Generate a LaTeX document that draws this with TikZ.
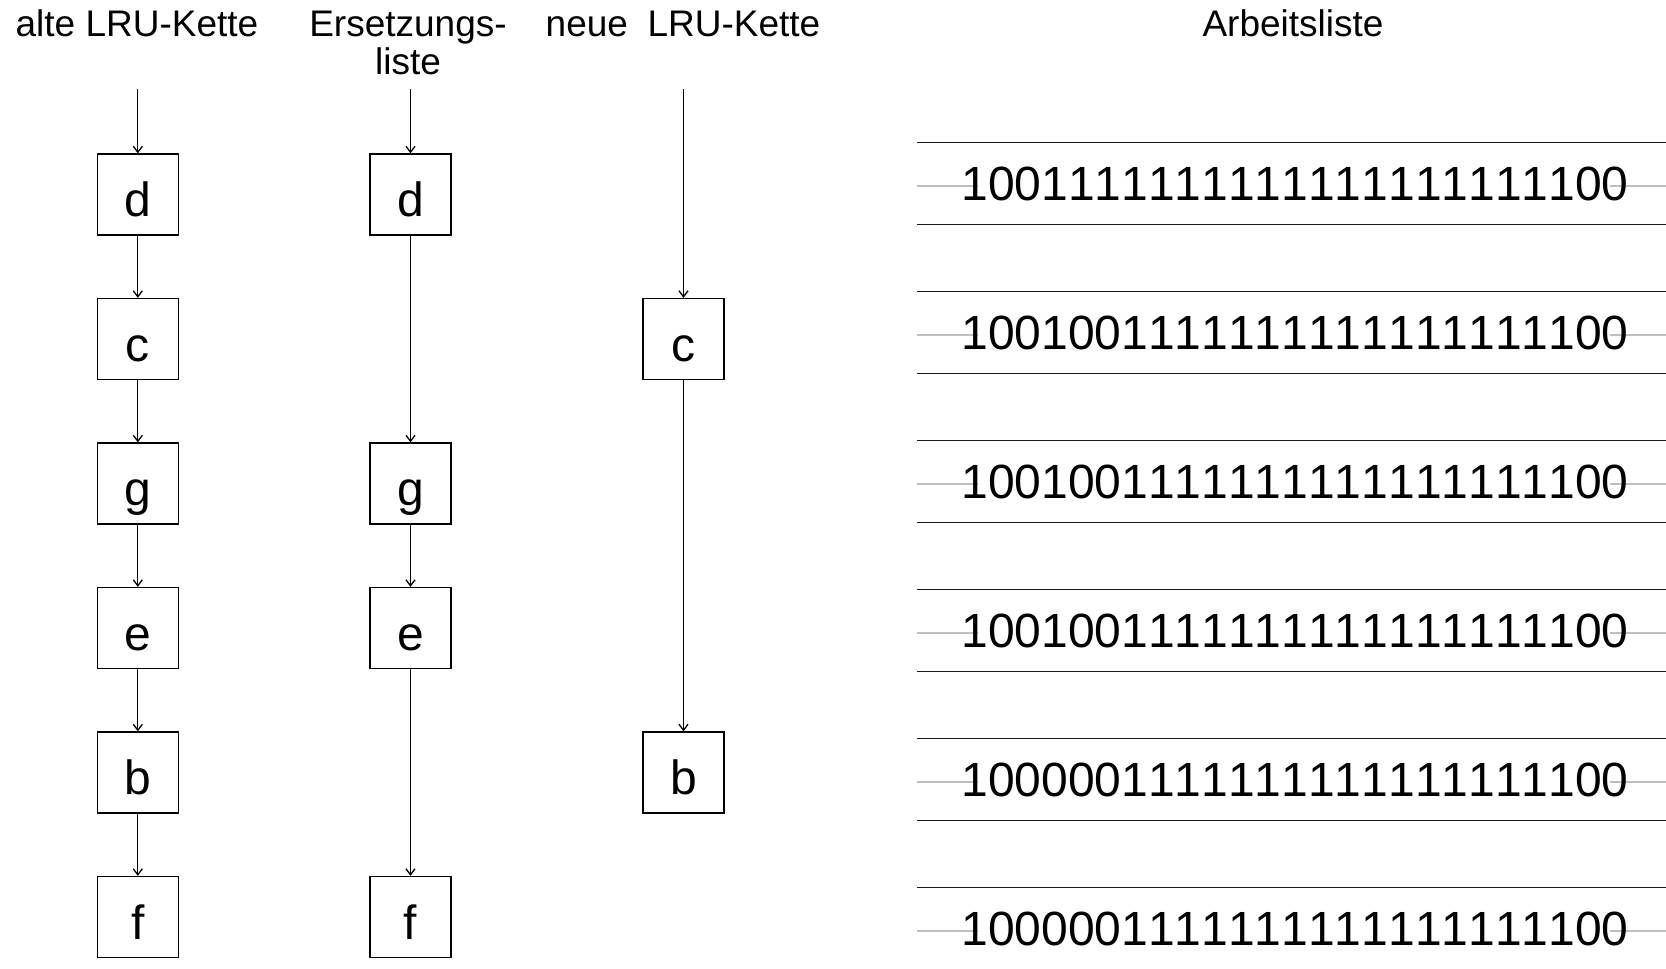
\documentclass[tikz,border=0pt]{standalone}
\usepackage{fontspec}
\setmainfont{Liberation Sans}
\newfontfamily\bitfont[Kerning=Off]{Liberation Sans}
\usetikzlibrary{arrows.meta}
\begin{document}
\begin{tikzpicture}[x=0.5pt,y=-0.5pt,
  hdr/.style={font=\fontsize{18.5}{19}\selectfont, inner sep=0pt},
  box/.style={draw, line width=0.65pt, minimum width=40.5pt, minimum height=40.5pt,
    inner sep=0pt, font=\fontsize{24}{24}\selectfont, text height=22.2pt, text depth=0pt},
  link/.style={draw, line width=0.65pt, -{Straight Barb[length=3pt,width=4.5pt]}},
  rule/.style={draw, black!90, line width=0.8pt},
  guide/.style={draw, black!25, line width=0.55pt},
  bits/.style={font=\bitfont\fontsize{24}{24}\selectfont, inner sep=0pt, anchor=base}]
\useasboundingbox (0,0) rectangle (1666,969);

% column headings
\node[hdr, anchor=base] (h1) at (137,36.5) {alte LRU-Kette};
\node[hdr, anchor=north, align=center] (h2) at (408,10.5) {Ersetzungs-\\liste};
\node[hdr, anchor=base] (h3) at (683,36.5) {neue\hspace{0.53em}LRU-Kette};
\node[hdr, anchor=base] (h4) at (1293,36.5) {Arbeitsliste};

% list heads
\coordinate (t1) at (137.8,89);
\coordinate (t2) at (410.5,89);
\coordinate (t3) at (683.5,89);

% old LRU chain
\node[box] (a1) at (137.8,194.5) {d};
\node[box] (a2) at (137.8,339) {c};
\node[box] (a3) at (137.8,483.5) {g};
\node[box] (a4) at (137.8,628) {e};
\node[box] (a5) at (137.8,772.5) {b};
\node[box] (a6) at (137.8,917) {f};

% replacement list
\node[box] (r1) at (410.5,194.5) {d};
\node[box] (r3) at (410.5,483.5) {g};
\node[box] (r4) at (410.5,628) {e};
\node[box] (r6) at (410.5,917) {f};

% new LRU chain
\node[box] (n2) at (683.5,339) {c};
\node[box] (n5) at (683.5,772.5) {b};

\path[link] (t1) -- (a1);
\path[link] (a1) -- (a2);
\path[link] (a2) -- (a3);
\path[link] (a3) -- (a4);
\path[link] (a4) -- (a5);
\path[link] (a5) -- (a6);

\path[link] (t2) -- (r1);
\path[link] (r1) -- (r3);
\path[link] (r3) -- (r4);
\path[link] (r4) -- (r6);

\path[link] (t3) -- (n2);
\path[link] (n2) -- (n5);

% work list: one band per entry, 25 bits each
\foreach \k/\s in {1/{100}{11111}{11111}{11111}{11111}{00},
                   2/{1001001}{11111}{11111}{11111}{1}{00},
                   3/{1001001}{11111}{11111}{11111}{1}{00},
                   4/{1001001}{11111}{11111}{11111}{1}{00},
                   5/{1000001}{11111}{11111}{11111}{1}{00},
                   6/{1000001}{11111}{11111}{11111}{1}{00}}{
  \pgfmathsetmacro{\T}{142.5+149*(\k-1)}
  \pgfmathsetmacro{\M}{\T+43.5}
  \pgfmathsetmacro{\B}{\T+82}
  \draw[rule] (917,\T) -- (1666,\T);
  \ifnum\k<6 \draw[rule] (917,\B) -- (1666,\B); \fi
  \draw[guide] (917,\M) -- (978,\M);
  \draw[guide] (1610,\M) -- (1666,\M);
  \node[bits] (s\k) at (1295,\T+58) {\s};
}
\end{tikzpicture}
\end{document}
